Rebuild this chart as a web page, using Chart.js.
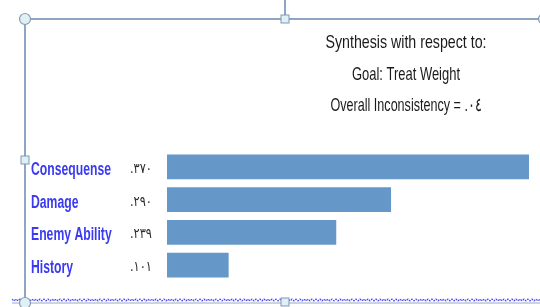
<!DOCTYPE html>
<html>
<head>
<meta charset="utf-8">
<script src="https://cdn.jsdelivr.net/npm/chart.js@4/dist/chart.umd.min.js"></script>
<style>
  html, body { margin: 0; padding: 0; background: #ffffff; }
  #wrap { width: 540px; height: 307px; position: relative; }
</style>
</head>
<body>
<div id="wrap"><canvas id="c" width="540" height="307"></canvas></div>
<script>
// ---- data ----
const categories = ["Consequense", "Damage", "Enemy Ability", "History"];
const valueLabels = [".٣٧٠", ".٢٩٠", ".٢٣٩", ".١٠١"];      // printed priorities
const barLengths = [0.370, 0.229, 0.173, 0.063];            // bar lengths as drawn
const titleLines = ["Synthesis with respect to:", "Goal: Treat Weight", "Overall Inconsistency = .٠٤"];

const BAR_COLOR = "#6597c9";
const LINE_COLOR = "#6a88b0";

function drawScaledText(ctx, text, x, y, targetW, align) {
  const w = ctx.measureText(text).width;
  const s = targetW / w;
  ctx.save();
  ctx.textAlign = "left";
  let left = x;
  if (align === "center") left = x - targetW / 2;
  ctx.translate(left, y);
  ctx.scale(s, 1);
  ctx.fillText(text, 0, 0);
  ctx.restore();
}

const decorPlugin = {
  id: "decor",
  afterDraw(chart) {
    const ctx = chart.ctx;
    const ys = chart.scales.y;
    ctx.save();

    // ---- frame lines ----
    ctx.strokeStyle = LINE_COLOR;
    ctx.lineWidth = 1.5;
    ctx.beginPath();
    ctx.moveTo(25, 19); ctx.lineTo(540, 19);
    ctx.moveTo(25, 19); ctx.lineTo(25, 302);
    ctx.moveTo(285, 0); ctx.lineTo(285, 19);
    ctx.stroke();

    // bottom wavy dotted blue line
    ctx.strokeStyle = "#4a4af2";
    ctx.lineWidth = 1.2;
    ctx.setLineDash([2, 1]);
    ctx.beginPath();
    for (let x = 12; x <= 540; x += 2) {
      const y = 300 + ((x / 2) % 2 === 0 ? -0.9 : 0.9);
      if (x === 12) ctx.moveTo(x, y); else ctx.lineTo(x, y);
    }
    ctx.stroke();
    ctx.setLineDash([]);
    ctx.strokeStyle = "#9aa8c0";
    ctx.lineWidth = 1;
    ctx.beginPath();
    ctx.moveTo(12, 303); ctx.lineTo(540, 303);
    ctx.stroke();

    // handles
    function circle(cx, cy) {
      ctx.beginPath();
      ctx.arc(cx, cy, 5.5, 0, Math.PI * 2);
      ctx.fillStyle = "#dff1f5";
      ctx.fill();
      ctx.strokeStyle = "#8a9bb0";
      ctx.lineWidth = 1.2;
      ctx.stroke();
    }
    function square(cx, cy) {
      ctx.fillStyle = "#dff1f5";
      ctx.fillRect(cx - 4, cy - 4, 8, 8);
      ctx.strokeStyle = "#7f98b5";
      ctx.lineWidth = 1;
      ctx.strokeRect(cx - 4, cy - 4, 8, 8);
    }
    circle(25, 19);
    circle(25, 303);
    circle(544, 19);
    square(285, 19);
    square(285, 302);
    square(25, 160);

    // ---- title lines ----
    ctx.fillStyle = "#1a1a1a";
    ctx.textBaseline = "alphabetic";
    ctx.font = "18.5px 'Liberation Sans', Arial, sans-serif";
    const tW = [161, 108, 151];
    const tY = [48, 80, 111];
    titleLines.forEach((t, i) => drawScaledText(ctx, t, 406, tY[i], tW[i], "center"));

    // ---- category labels & values ----
    ctx.font = "bold 18px 'Liberation Sans', Arial, sans-serif";
    const ref = ctx.measureText(categories[0]).width;
    const sx = 80 / ref;
    categories.forEach((c, i) => {
      const yc = ys.getPixelForValue(i);
      ctx.fillStyle = "#3a3af2";
      ctx.save();
      ctx.translate(31, yc + 8);
      ctx.scale(sx, 1);
      ctx.fillText(c, 0, 0);
      ctx.restore();
    });
    ctx.font = "14px 'DejaVu Sans', sans-serif";
    ctx.fillStyle = "#2a2a2a";
    valueLabels.forEach((v, i) => {
      const yc = ys.getPixelForValue(i);
      drawScaledText(ctx, v, 130, yc + 6, 22, "left");
    });

    ctx.restore();
  }
};

new Chart(document.getElementById("c"), {
  type: "bar",
  data: {
    labels: categories,
    datasets: [{
      data: barLengths,
      backgroundColor: BAR_COLOR,
      borderWidth: 0,
      barPercentage: 0.76,
      categoryPercentage: 1.0
    }]
  },
  options: {
    indexAxis: "y",
    responsive: false,
    animation: false,
    devicePixelRatio: 1,
    layout: { padding: { left: 167, right: 11, top: 150.5, bottom: 25.5 } },
    plugins: { legend: { display: false }, title: { display: false }, tooltip: { enabled: false } },
    scales: {
      x: { display: false, min: 0, max: 0.370 },
      y: { display: false, offset: true }
    }
  },
  plugins: [decorPlugin]
});
</script>
</body>
</html>
